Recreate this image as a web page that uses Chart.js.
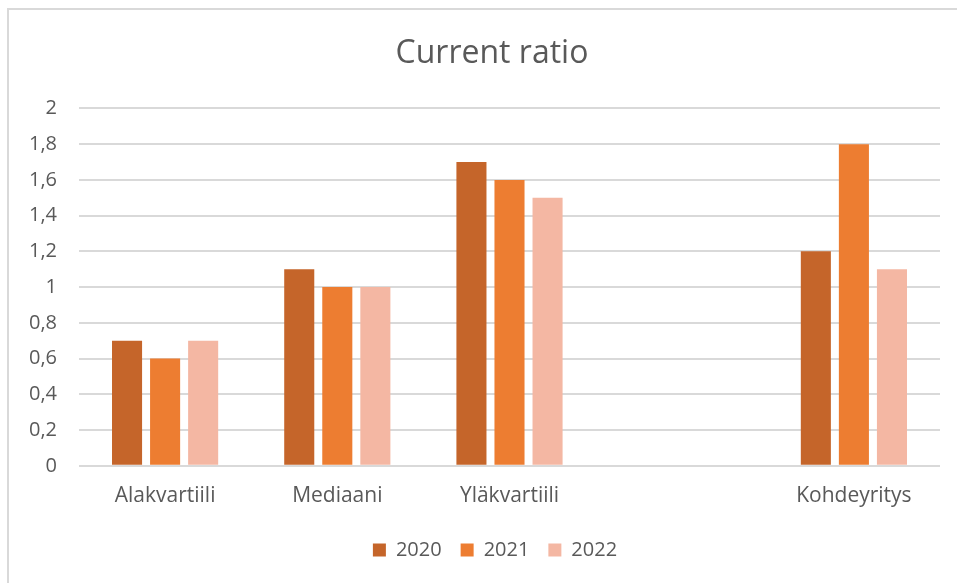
<!DOCTYPE html>
<html>
<head>
<meta charset="utf-8">
<script src="https://cdn.jsdelivr.net/npm/chart.js@4/dist/chart.umd.min.js"></script>
<style>
  html, body { margin: 0; padding: 0; background: #fff; }
  #wrap { position: relative; width: 957px; height: 583px; }
  #frame { position: absolute; left: 7px; top: 8px; right: 0; bottom: 0;
           border-top: 2px solid #D9D9D9; border-left: 2px solid #D9D9D9; }
  canvas { position: absolute; left: 0; top: 0; }
</style>
</head>
<body>
<div id="wrap">
  <div id="frame"></div>
  <canvas id="c" width="957" height="583"></canvas>
</div>
<script>
const categories = ['Alakvartiili', 'Mediaani', 'Yläkvartiili', '', 'Kohdeyritys'];
const seriesNames = ['2020', '2021', '2022'];
const values2020 = [0.7, 1.1, 1.7, null, 1.2];
const values2021 = [0.6, 1.0, 1.6, null, 1.8];
const values2022 = [0.7, 1.0, 1.5, null, 1.1];
const colors = ['#C5652A', '#ED7D31', '#F4B7A3'];
const yMin = 0, yMax = 2, yStep = 0.2;

const textColor = '#595959';
const font = "'Open Sans', sans-serif";

// fine positioning of title and legend (centred like the reference)
const shiftBoxes = {
  id: 'shiftBoxes',
  afterLayout(chart) {
    const t = chart.titleBlock;
    if (t) { t.left += 22; t.right += 22; }
    const l = chart.legend;
    if (l) {
      try { l.options.labels.padding = 19; } catch (e) {}
      l.left += 16; l.right += 16;
      l.top -= 6; l.bottom -= 6;
    }
  }
};

new Chart(document.getElementById('c'), {
  type: 'bar',
  data: {
    labels: categories,
    datasets: [values2020, values2021, values2022].map((d, i) => ({
      label: seriesNames[i],
      data: d,
      backgroundColor: colors[i],
      borderWidth: 0,
      categoryPercentage: 0.663,
      barPercentage: 0.79
    }))
  },
  plugins: [shiftBoxes],
  options: {
    responsive: false,
    animation: false,
    devicePixelRatio: 1,
    layout: { padding: { left: 0, right: 17, top: 0, bottom: 13 } },
    plugins: {
      title: {
        display: true,
        text: 'Current ratio',
        color: textColor,
        font: { family: font, size: 32, weight: 'normal' },
        padding: { top: 35, bottom: 35 }
      },
      legend: {
        position: 'bottom',
        labels: {
          color: textColor,
          font: { family: font, size: 20 },
          boxWidth: 13,
          boxHeight: 13,
          padding: 13
        }
      },
      tooltip: { enabled: false }
    },
    scales: {
      x: {
        grid: { display: false, drawTicks: false },
        border: { display: false },
        ticks: { color: textColor, font: { family: font, size: 21 }, padding: 18 }
      },
      y: {
        min: yMin, max: yMax,
        afterFit: (s) => { s.width = 79; },
        grid: { color: '#D9D9D9', lineWidth: 2, drawTicks: false },
        border: { display: false },
        ticks: {
          stepSize: yStep,
          color: textColor,
          font: { family: font, size: 20 },
          padding: 22,
          callback: (v) => Number(v.toFixed(1)).toString().replace('.', ',')
        }
      }
    }
  }
});
</script>
</body>
</html>
